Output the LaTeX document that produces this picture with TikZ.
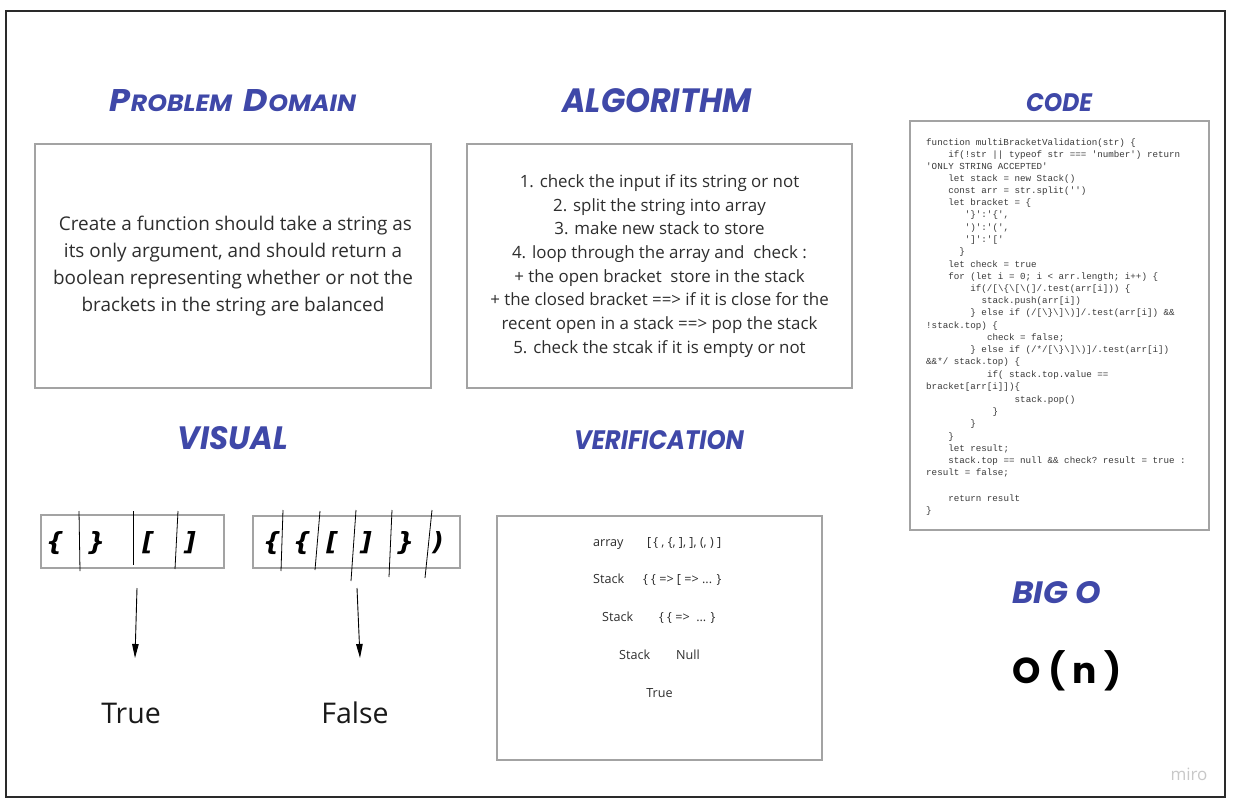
\documentclass[tikz,border=0pt]{standalone}
\usepackage{fontspec}
\setmainfont{Open Sans}
\setmonofont{Liberation Mono}
\newfontfamily\titlefont{Poppins}
\newfontfamily\handfont{DejaVu Sans}
\usetikzlibrary{arrows.meta}
\definecolor{titleblue}{HTML}{3F48A8}
\definecolor{boxgray}{HTML}{A3A3A3}
\definecolor{txt}{HTML}{2E2E2E}
\definecolor{codegray}{HTML}{3A3A3A}
\definecolor{mirogray}{HTML}{C8C8C8}
\definecolor{frame}{HTML}{2A2A2A}
\newcommand\ttlbox[3]{\resizebox{#1pt}{#2pt}{\titlefont\bfseries\itshape #3}}
\newcommand\bigsc[1]{{\fontsize{24}{24}\selectfont #1}}
\newcommand\smsc[1]{{\fontsize{18}{18}\selectfont #1}}
\tikzset{
  title/.style={inner sep=0pt, text=titleblue},
  panel/.style={draw=boxgray, line width=1.1pt, inner sep=0pt, text=txt},
  codeline/.style={anchor=west, inner sep=0pt, font=\ttfamily\fontsize{9.2}{11}\selectfont, text=codegray, text height=7pt, text depth=2pt},
  verif/.style={inner sep=0pt, font=\fontsize{12.6}{14}\selectfont, text=txt, text height=9.5pt, text depth=2.5pt},
  cell/.style={draw=boxgray, line width=1.1pt, inner sep=0pt},
  glyph/.style={inner sep=0pt, font=\handfont\bfseries\itshape\fontsize{25}{25}\selectfont, text=black},
  divider/.style={draw=black, line width=0.8pt},
  arr/.style={draw=black, line width=0.9pt, -{Triangle[length=14pt,width=6.5pt]}},
  result/.style={inner sep=0pt, font=\fontsize{28.5}{30}\selectfont, text=black!90}
}
\begin{document}
\begin{tikzpicture}[x=1pt,y=-1pt]
\useasboundingbox (0,0) rectangle (1236,808);
\fill[white] (0,0) rectangle (1236,808);
\draw[frame, line width=2pt] (6,11) rectangle (1225,797);

% titles
\node[title] (tpd) at (233,101) {\ttlbox{246}{22}{\bigsc{P}\smsc{ROBLEM\ \ }\bigsc{D}\smsc{OMAIN}}};
\node[title] (talg) at (657,101) {\ttlbox{189}{24}{ALGORITHM}};
\node[title] (tcode) at (1059,103) {\ttlbox{66}{18}{CODE}};
\node[title] (tvis) at (233,438) {\ttlbox{110}{23}{VISUAL}};
\node[title] (tver) at (659,440) {\ttlbox{170}{19}{VERIFICATION}};
\node[title] (tbig) at (1057,593) {\ttlbox{89}{22}{BIG O}};

% problem domain
\node[panel, minimum width=396pt, minimum height=244pt, align=center,
      font=\fontsize{18.9}{26.7}\selectfont] (pd) at (233,266)
  {\ Create a function should take a string as\\
   its only argument, and should return a\\
   boolean representing whether or not the\\
   brackets in the string are balanced};

% algorithm
\node[panel, minimum width=385pt, minimum height=244pt, align=center,
      font=\fontsize{16.9}{23.7}\selectfont] (alg) at (659.5,266)
  {1. check the input if its string or not\\
   2. split the string into array\\
   3. make new stack to store\\
   4. loop through the array and\ \ check :\\
   + the open bracket\ \ store in the stack\\
   + the closed bracket ==> if it is close for the\\
   recent open in a stack ==> pop the stack\\
   5. check the stcak if it is empty or not};

% code
\node[panel, minimum width=299pt, minimum height=409pt] (code) at (1059.5,325.5) {};
\node[codeline] (c1) at (926,143) {function multiBracketValidation(str) \{};
\node[codeline] (c2) at (948.1,154.5) {if(!str || typeof str === 'number') return};
\node[codeline] (c3) at (926,166.5) {'ONLY STRING ACCEPTED'};
\node[codeline] (c4) at (948.1,178.5) {let stack = new Stack()};
\node[codeline] (c5) at (948.1,190.5) {const arr = str.split('')};
\node[codeline] (c6) at (948.1,203) {let bracket = \{};
\node[codeline] (c7) at (964.7,215) {'\}':'\{',};
\node[codeline] (c8) at (964.7,227.5) {')':'(',};
\node[codeline] (c9) at (964.7,240) {']':'['};
\node[codeline] (c10) at (959.2,252) {\}};
\node[codeline] (c11) at (948.1,264.5) {let check = true};
\node[codeline] (c12) at (948.1,277) {for (let i = 0; i < arr.length; i++) \{};
\node[codeline] (c13) at (970.2,289) {if(/[\textbackslash\{\textbackslash[\textbackslash(]/.test(arr[i])) \{};
\node[codeline] (c14) at (981.3,301) {stack.push(arr[i])};
\node[codeline] (c15) at (970.2,313) {\} else if (/[\textbackslash\}\textbackslash]\textbackslash)]/.test(arr[i]) \&\&};
\node[codeline] (c16) at (926,325.5) {!stack.top) \{};
\node[codeline] (c17) at (986.8,338) {check = false;};
\node[codeline] (c18) at (970.2,350) {\} else if (/*/[\textbackslash\}\textbackslash]\textbackslash)]/.test(arr[i])};
\node[codeline] (c19) at (926,362) {\&\&*/ stack.top) \{};
\node[codeline] (c20) at (986.8,375) {if( stack.top.value ==};
\node[codeline] (c21) at (926,387) {bracket[arr[i]])\{};
\node[codeline] (c22) at (1014.5,400) {stack.pop()};
\node[codeline] (c23) at (992.4,412) {\}};
\node[codeline] (c24) at (970.2,424) {\}};
\node[codeline] (c25) at (948.1,436.5) {\}};
\node[codeline] (c26) at (948.1,449) {let result;};
\node[codeline] (c27) at (948.1,461) {stack.top == null \&\& check? result = true :};
\node[codeline] (c28) at (926,473) {result = false;};
\node[codeline] (c30) at (948.1,498.5) {return result};
\node[codeline] (c31) at (926,511) {\}};

% big O
\node[inner sep=0pt] (bigo) at (1067,671) {\resizebox{110pt}{!}{\titlefont\bfseries O ( n )}};

% visual
\node[cell, minimum width=183pt, minimum height=53pt] (vl) at (132.5,541.5) {};
\node[cell, minimum width=207pt, minimum height=52pt] (vr) at (356.5,542) {};
\node[glyph] (g1) at (55,543) {\{};
\node[glyph] (g2) at (96,543) {\}};
\node[glyph] (g3) at (148,543) {[};
\node[glyph] (g4) at (190,543) {]};
\node[glyph] (h1) at (272,543) {\{};
\node[glyph] (h2) at (302,543) {\{};
\node[glyph] (h3) at (332,543) {[};
\node[glyph] (h4) at (366,543) {]};
\node[glyph] (h5) at (405,543) {\}};
\node[glyph] (h6) at (438,543) {)};
\draw[divider] (79,511) -- (80,571);
\draw[divider] (133,511) -- (133,565);
\draw[divider] (178,511) -- (175,569);
\draw[divider] (283,510) -- (281,571);
\draw[divider] (320,511) -- (315,570);
\draw[divider] (356,510) -- (351,581);
\draw[divider] (392,510) -- (389,577);
\draw[divider] (432,510) -- (425,578);
\coordinate (a1s) at (137,588);
\coordinate (a1e) at (135,658);
\coordinate (a2s) at (357,588);
\coordinate (a2e) at (360,658);
\draw[arr] (a1s) -- (a1e);
\draw[arr] (a2s) -- (a2e);
\node[result] (true) at (131,713) {True};
\node[result] (false) at (355,713) {False};

% verification
\node[panel, minimum width=325pt, minimum height=244pt] (ver) at (659.5,638) {};
\node[verif, anchor=west] (v1a) at (593,543) {array};
\node[verif, anchor=west] (v1b) at (647,543) {[\,\{ , \{, ], ], (, ) ]};
\node[verif, anchor=west] (v2a) at (593,580) {Stack};
\node[verif, anchor=west] (v2b) at (643,580) {\{ \{ => [ => ... \}};
\node[verif, anchor=west] (v3a) at (602,618) {Stack};
\node[verif, anchor=west] (v3b) at (659,618) {\{ \{ =>\ \ ... \}};
\node[verif, anchor=west] (v4a) at (619,656) {Stack};
\node[verif, anchor=west] (v4b) at (676,656) {Null};
\node[verif] (v5) at (659.5,694) {True};

% watermark
\node[inner sep=0pt, text=mirogray, font=\fontsize{17}{18}\selectfont] (miro) at (1189,774) {miro};
\end{tikzpicture}
\end{document}
